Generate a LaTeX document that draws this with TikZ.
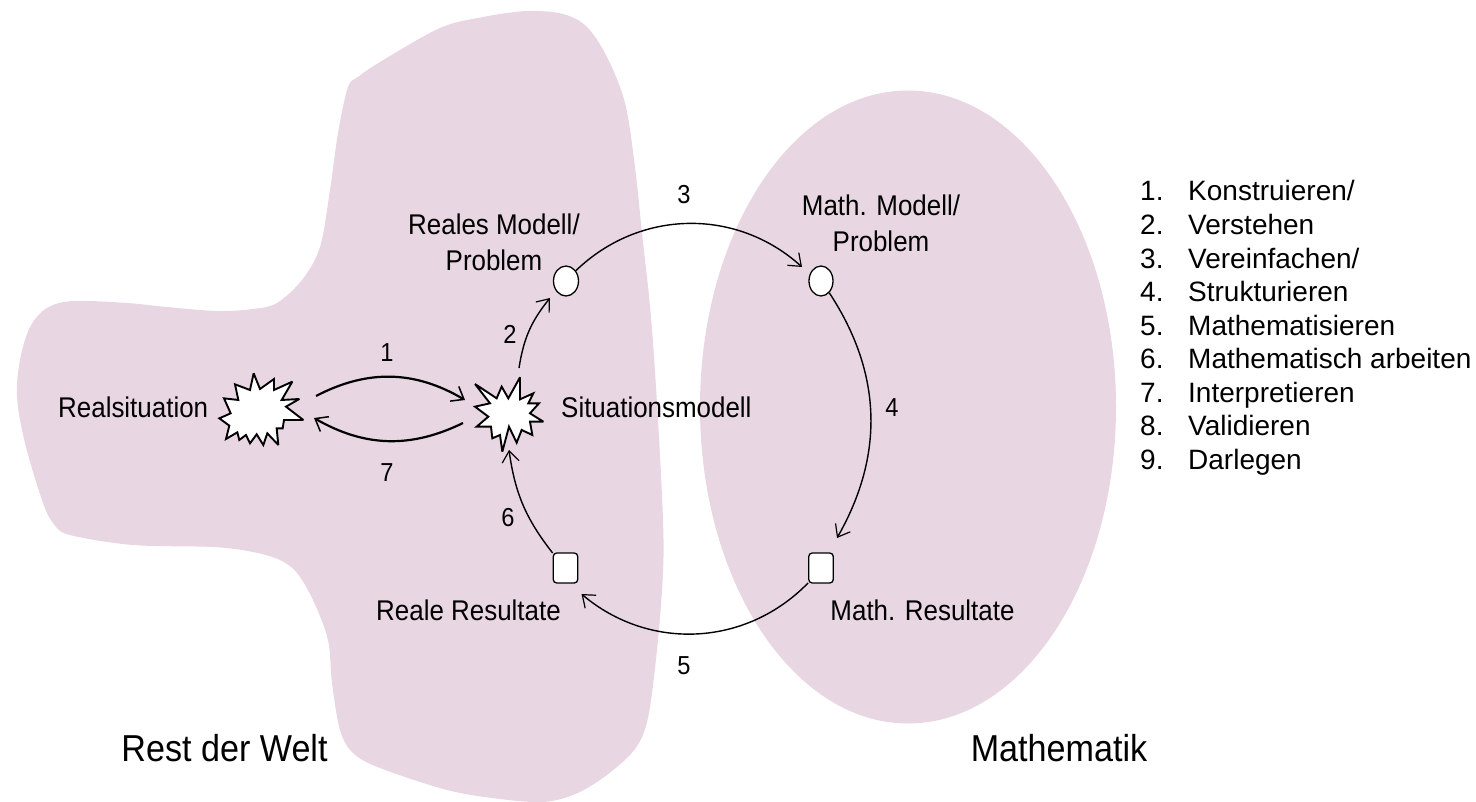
\documentclass[tikz,border=0pt]{standalone}
\usepackage{fontspec}
\setmainfont{Liberation Sans}
\newfontfamily\narrowfont[FakeStretch=0.91]{Liberation Sans}
\usetikzlibrary{arrows.meta,shapes.geometric}
\definecolor{blobpink}{HTML}{E9D6E3}
\tikzset{
  blob/.style={fill=blobpink,draw=none},
  burstshape/.style={draw=black,fill=white,line width=1.9pt,line join=miter,miter limit=3},
  roundnode/.style={draw=black,fill=white,line width=1.3pt,ellipse,inner sep=0pt,minimum width=25pt,minimum height=30pt},
  squarenode/.style={draw=black,fill=white,line width=1.3pt,rectangle,rounded corners=3.5pt,inner sep=0pt,minimum width=24.5pt,minimum height=30pt},
  lab/.style={font=\narrowfont\fontsize{28.5}{36}\selectfont,inner sep=0pt,align=center},
  numlab/.style={font=\narrowfont\fontsize{26}{30}\selectfont,inner sep=0pt},
  biglab/.style={font=\narrowfont\fontsize{37.5}{44}\selectfont,inner sep=0pt},
  listnum/.style={font=\fontsize{28}{30}\selectfont,inner sep=0pt,anchor=base west},
  conn/.style={draw=black,line width=1.4pt,-{Straight Barb[length=11pt,width=17pt,line width=1.2pt]}},
  connb/.style={draw=black,line width=2.2pt,-{Straight Barb[length=11pt,width=17pt,line width=1.5pt]}},
}
\begin{document}
\begin{tikzpicture}[x=1pt,y=-1pt]
\useasboundingbox (0,0) rectangle (1476,802);
% regions
\path[blob] plot[smooth cycle,tension=0.55] coordinates{
 (338,133)(348,87)(358,77)(380,62)(440,28)(483,17)(527,11)(563,14)(587,27)(607,57)(625,103)(635,167)(642,233)(651,317)(658,420)(663,520)(663,573)(658,640)(650,707)(642,737)(628,757)(600,780)(573,795)(543,802)(500,799)(447,790)(380,768)(353,753)(340,730)(332,683)(328,640)(313,600)(297,573)(280,560)(253,552)(213,547)(133,545)(70,535)(53,523)(42,500)(25,443)(17,397)(20,360)(30,327)(47,308)(73,301)(127,303)(167,307)(217,311)(253,309)(277,303)(302,280)(320,247)(330,190)};
\path[blob] (908,407) ellipse [x radius=208,y radius=316.5];
% anchors of the two bursts
\coordinate (realsit) at (255,409);
\coordinate (sitmod) at (505,410);
% bursts
\begin{scope}[shift={(210,365)},x=0.3333pt,y=-0.3333pt]
\draw[burstshape] (131,25)--(150,72)--(192,42)--(192,75)--(247,50)--(215,105)--(268,102)--(228,125)--(280,165)--(222,165)--(218,190)--(200,190)--(205,240)--(172,205)--(160,240)--(140,208)--(120,235)--(108,210)--(88,225)--(82,202)--(48,222)--(58,182)--(28,160)--(62,145)--(42,100)--(85,105)--(75,58)--(120,75)--cycle;
\end{scope}
\begin{scope}[shift={(465,370)},x=0.3333pt,y=-0.3333pt]
\draw[burstshape] (165,22)--(165,88)--(205,70)--(190,100)--(222,100)--(195,130)--(235,155)--(195,155)--(202,195)--(170,180)--(155,218)--(132,170)--(112,245)--(105,195)--(82,205)--(78,170)--(35,170)--(70,140)--(30,110)--(75,100)--(30,42)--(95,85)--(110,50)--(130,85)--cycle;
\end{scope}
% small nodes
\node[roundnode] (mreal) at (566,281) {};
\node[roundnode,minimum width=24pt] (mmath) at (821,281) {};
\node[squarenode] (rreal) at (565.5,568) {};
\node[squarenode] (rmath) at (821,568) {};
% connectors
\draw[connb] ([shift={(61,-13)}]realsit) to[bend left=29] ([shift={(-40,-10)}]sitmod);
\draw[connb] ([shift={(-42,13)}]sitmod) to[bend left=28] ([shift={(59,9)}]realsit);
\draw[conn] ([shift={(14,-42)}]sitmod) to[bend left=15] ([shift={(-16,17)}]mreal);
\draw[conn] ([shift={(18,-19)}]mreal) to[bend left=43] ([shift={(-19,-14)}]mmath);
\draw[conn] ([shift={(12,23)}]mmath) to[bend left=31.5] ([shift={(16,-30)}]rmath);
\draw[conn] ([shift={(-21,16)}]rmath) to[bend left=43] ([shift={(16,26)}]rreal);
\draw[conn] ([shift={(-20,-16)}]rreal) to[bend left=15] ([shift={(4,40)}]sitmod);
% labels
\node[lab,anchor=west] (trealsit) at (58,407) {Realsituation};
\node[lab,anchor=west] (tsitmod) at (561,407) {Situationsmodell};
\node[lab] (tmreal) at (494,242) {Reales Modell/\\Problem};
\node[lab] (tmmath) at (881,223) {Math. Modell/\\Problem};
\node[lab] (trreal) at (468.5,610) {Reale Resultate};
\node[lab] (trmath) at (922.5,610) {Math. Resultate};
\node[numlab] (n1) at (387,353) {1};
\node[numlab] (n2) at (510,334) {2};
\node[numlab] (n3) at (684,195) {3};
\node[numlab] (n4) at (892,408) {4};
\node[numlab] (n5) at (684,666) {5};
\node[numlab] (n6) at (508,518) {6};
\node[numlab] (n7) at (387,473) {7};
\node[biglab] (trest) at (224.5,748) {Rest der Welt};
\node[biglab] (tmathe) at (1059,748) {Mathematik};
% list
\foreach \i/\t [count=\k from 0] in {1/Konstruieren\slash,2/Verstehen,3/Vereinfachen\slash,4/Strukturieren,5/Mathematisieren,6/Mathematisch arbeiten,7/Interpretieren,8/Validieren,9/Darlegen}{
  \node[listnum] (ln\i) at (1140,{201+33.55*\k}) {\i.};
  \node[listnum] (lt\i) at (1188,{201+33.55*\k}) {\t};
}
\end{tikzpicture}
\end{document}
